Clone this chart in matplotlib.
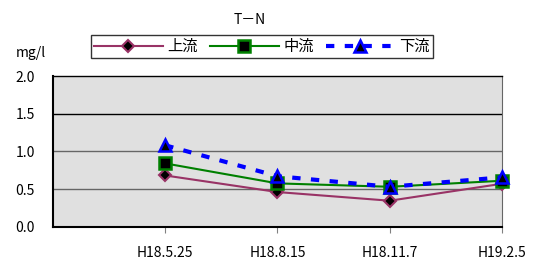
import matplotlib
matplotlib.use("Agg")
import matplotlib.pyplot as plt

plt.rcParams['font.family'] = ['Noto Sans CJK JP', 'DejaVu Sans']

dates = ['H18.5.25', 'H18.8.15', 'H18.11.7', 'H19.2.5']
upper = [0.68, 0.46, 0.345, 0.57]
middle = [0.84, 0.575, 0.53, 0.61]
lower = [1.08, 0.67, 0.53, 0.655]

fig = plt.figure(figsize=(5.39, 2.63), dpi=100)
ax = fig.add_axes([0.0983, 0.138, 0.833, 0.573])
ax.set_facecolor('#e0e0e0')

x = list(range(1, len(dates) + 1))
ax.plot(x, upper, color='#993366', lw=1.5, marker='D', ms=6,
        mfc='black', mec='#993366', mew=1.5, label='上流', zorder=3, clip_on=False)
ax.plot(x, middle, color='#008000', lw=1.5, marker='s', ms=8,
        mfc='black', mec='#008000', mew=1.8, label='中流', zorder=4, clip_on=False)
ax.plot(x, lower, color='#0000ff', lw=3, ls=(0, (2, 2.5)), marker='^', ms=9,
        mfc='black', mec='#0000ff', mew=1.8, label='下流', zorder=5, clip_on=False)

ax.set_xlim(0, 4)
ax.set_ylim(0, 2.0)
ax.set_xticks(x)
ax.set_xticklabels(dates, fontsize=10)
ax.set_yticks([0, 0.5, 1.0, 1.5, 2.0])
ax.set_yticklabels(['0.0', '0.5', '1.0', '1.5', '2.0'], fontsize=10)
ax.tick_params(axis='x', length=4, color='gray', pad=10)
ax.tick_params(axis='y', length=0, pad=13)
for y in [0.5, 1.0]:
    ax.axhline(y, color='#666666', lw=1, zorder=1)
ax.axhline(1.5, color='black', lw=1, zorder=1)

ax.spines['left'].set_linewidth(1.5)
ax.spines['bottom'].set_linewidth(1.5)
ax.spines['top'].set_linewidth(1)
ax.spines['right'].set_color('#666666')

fig.text(0.464, 0.925, 'T－N', ha='center', va='center', fontsize=10)
fig.text(0.03, 0.80, 'mg/l', ha='left', va='center', fontsize=10)

leg = fig.legend(loc='center', bbox_to_anchor=(0.486, 0.823), ncol=3,
                 fontsize=11, frameon=True, fancybox=False, edgecolor='black',
                 handlelength=4.5, columnspacing=0.8, handletextpad=0.3,
                 borderpad=0.2, borderaxespad=0)
leg.get_frame().set_linewidth(1)

fig.savefig('out.png', dpi=100)
